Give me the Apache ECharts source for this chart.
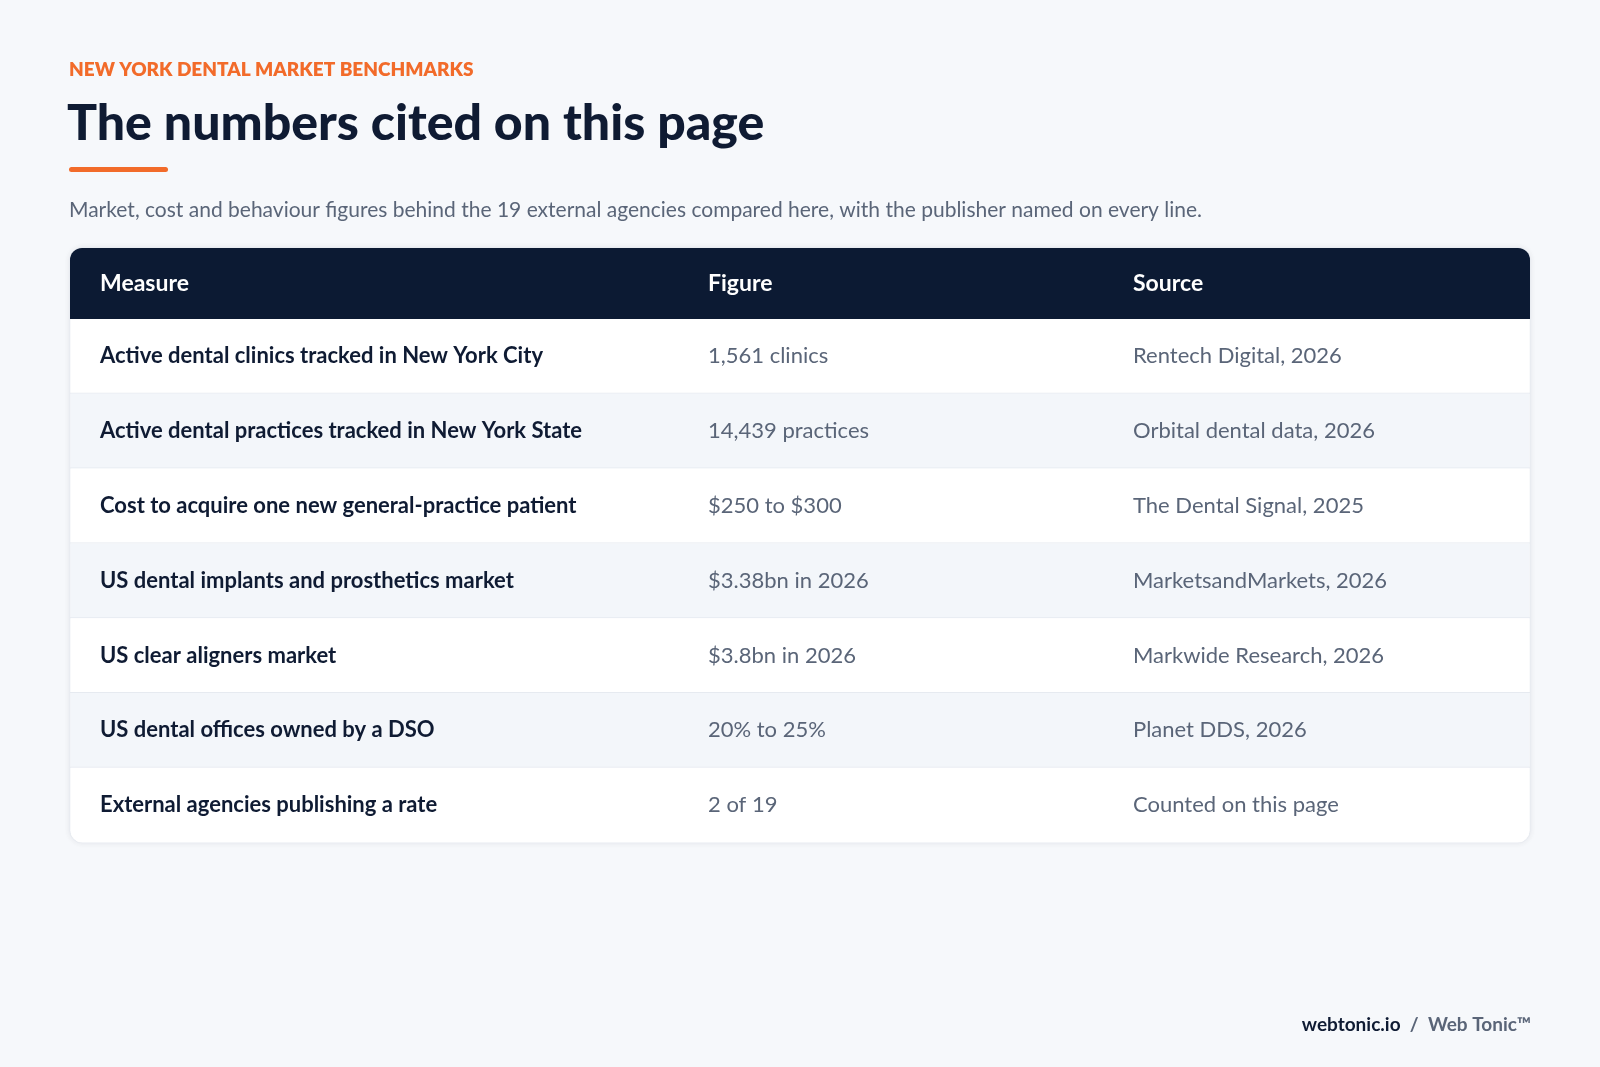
<!DOCTYPE html>
<html><head><meta charset="utf-8">
<script src="https://cdn.jsdelivr.net/npm/echarts@6/dist/echarts.min.js"></script>
<style>html,body{margin:0;padding:0;background:#f6f8fb}#c{width:1600px;height:1067px}</style>
</head><body><div id="c"></div>
<script>
const headers = ['Measure', 'Figure', 'Source'];
const measures = [
  'Active dental clinics tracked in New York City',
  'Active dental practices tracked in New York State',
  'Cost to acquire one new general-practice patient',
  'US dental implants and prosthetics market',
  'US clear aligners market',
  'US dental offices owned by a DSO',
  'External agencies publishing a rate'
];
const figures = ['1,561 clinics', '14,439 practices', '$250 to $300', '$3.38bn in 2026', '$3.8bn in 2026', '20% to 25%', '2 of 19'];
const sources = ['Rentech Digital, 2026', 'Orbital dental data, 2026', 'The Dental Signal, 2025', 'MarketsandMarkets, 2026', 'Markwide Research, 2026', 'Planet DDS, 2026', 'Counted on this page'];

const F = 'Lato, "Noto Sans", sans-serif';
const L = 70, R = 1530, HT = 248, HB = 319, RH = 74.8;
const colX = [100, 708, 1133];
const n = measures.length;
const chart = echarts.init(document.getElementById('c'));
chart.setOption({
  backgroundColor: '#f6f8fb',
  animation: false,
  grid: { left: L, right: 1600 - R, top: HB, height: RH * n },
  xAxis: { type: 'value', min: 0, max: 1, show: false },
  yAxis: { type: 'category', data: measures.map((_, i) => i), inverse: true, show: false },
  graphic: [
    { type: 'rect', shape: { x: L, y: HT, width: R - L, height: HB - HT + RH * n, r: 12 }, style: { fill: '#fff', shadowBlur: 6, shadowColor: 'rgba(15,27,51,0.08)', stroke: '#e6eaf0' }, z: 0 },
    { type: 'rect', shape: { x: L, y: HT, width: R - L, height: HB - HT, r: [12, 12, 0, 0] }, style: { fill: '#0c1a33' }, z: 5 },
    ...headers.map((h, i) => ({ type: 'text', x: colX[i], y: (HT + HB) / 2, style: { text: h, fill: '#fff', font: `bold 23px ${F}`, textVerticalAlign: 'middle' }, z: 6 })),
    { type: 'text', x: 69, y: 70, style: { text: 'NEW YORK DENTAL MARKET BENCHMARKS', fill: '#f26b2a', font: `800 19px ${F}`, textVerticalAlign: 'middle', letterSpacing: 2.2 } },
    { type: 'text', x: 67, y: 124, style: { text: 'The numbers cited on this page', fill: '#0f1b33', font: `900 50px ${F}`, textVerticalAlign: 'middle', letterSpacing: -1.2 } },
    { type: 'rect', shape: { x: 69, y: 167, width: 99, height: 5, r: 2.5 }, style: { fill: '#f26b2a' } },
    { type: 'text', x: 69, y: 210, style: { text: 'Market, cost and behaviour figures behind the 19 external agencies compared here, with the publisher named on every line.', fill: '#5a6578', font: `21px ${F}`, textVerticalAlign: 'middle' } },
    { type: 'text', x: 1531, y: 1025, style: { text: '{a|webtonic.io}{b|  /  Web Tonic™}', textAlign: 'right', textVerticalAlign: 'middle', rich: { a: { fill: '#0f1b33', font: `bold 19px ${F}` }, b: { fill: '#5a6578', font: `bold 19px ${F}` } } } }
  ],
  series: [{
    type: 'custom',
    data: measures.map((_, i) => [0, i]),
    renderItem: (params, api) => {
      const i = api.value(1);
      const top = api.coord([0, i])[1] - RH / 2;
      const cy = top + RH / 2;
      const last = i === n - 1;
      const children = [
        { type: 'rect', shape: { x: L + 0.5, y: top, width: R - L - 1, height: RH, r: last ? [0, 0, 12, 12] : 0 }, style: { fill: i % 2 ? '#f3f6fa' : '#ffffff' } },
        { type: 'text', x: colX[0], y: cy, style: { text: measures[i], fill: '#0f1b33', font: `bold 22px ${F}`, textVerticalAlign: 'middle' } },
        { type: 'text', x: colX[1], y: cy, style: { text: figures[i], fill: '#5a6578', font: `22px ${F}`, textVerticalAlign: 'middle' } },
        { type: 'text', x: colX[2], y: cy, style: { text: sources[i], fill: '#5a6578', font: `22px ${F}`, textVerticalAlign: 'middle' } }
      ];
      if (!last) children.push({ type: 'rect', shape: { x: L, y: top + RH - 1, width: R - L, height: 1 }, style: { fill: '#e6eaf0' } });
      return { type: 'group', children };
    }
  }]
});
</script></body></html>
